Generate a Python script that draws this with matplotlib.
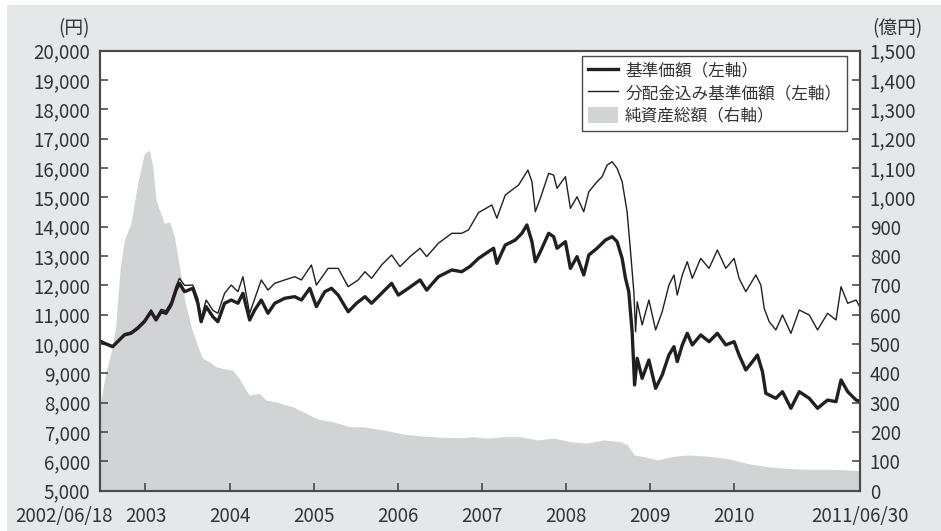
import matplotlib
matplotlib.use("Agg")
import matplotlib.pyplot as plt
from matplotlib.patches import Rectangle, Patch
from matplotlib.lines import Line2D
from matplotlib.transforms import ScaledTranslation
import pandas as pd

plt.rcParams['font.family'] = ['Noto Sans CJK JP', 'DejaVu Sans']

# ---------------- data (decimal years) ----------------
thick_years = [2002.46, 2002.512, 2002.61, 2002.67, 2002.75, 2002.828, 2002.908, 2002.988, 2003.067, 2003.126,
               2003.186, 2003.245, 2003.305, 2003.365, 2003.405, 2003.465, 2003.564, 2003.623, 2003.662, 2003.722,
               2003.802, 2003.861, 2003.941, 2004.02, 2004.10, 2004.159, 2004.239, 2004.299, 2004.377, 2004.457,
               2004.537, 2004.656, 2004.775, 2004.854, 2004.954, 2005.032, 2005.132, 2005.211, 2005.291, 2005.41,
               2005.509, 2005.609, 2005.688, 2005.807, 2005.926, 2006.006, 2006.125, 2006.264, 2006.343, 2006.482,
               2006.641, 2006.76, 2006.86, 2006.959, 2007.078, 2007.138, 2007.177, 2007.277, 2007.396, 2007.475,
               2007.534, 2007.594, 2007.634, 2007.694, 2007.793, 2007.852, 2007.892, 2007.992, 2008.051, 2008.13,
               2008.21, 2008.27, 2008.368, 2008.468, 2008.547, 2008.606, 2008.666, 2008.706, 2008.745, 2008.785,
               2008.814, 2008.845, 2008.904, 2008.984, 2009.064, 2009.142, 2009.222, 2009.282, 2009.321, 2009.381,
               2009.44, 2009.50, 2009.60, 2009.699, 2009.798, 2009.898, 2009.997, 2010.056, 2010.136, 2010.215,
               2010.274, 2010.334, 2010.374, 2010.493, 2010.572, 2010.672, 2010.771, 2010.89, 2010.989, 2011.108,
               2011.208, 2011.268, 2011.347, 2011.447, 2011.50]
thick_vals = [10100, 10025, 9910, 10080, 10310, 10365, 10535, 10760, 11100, 10820,
              11100, 11048, 11330, 11840, 12070, 11785, 11900, 11390, 10760, 11275,
              10930, 10760, 11390, 11500, 11390, 11730, 10820, 11160, 11500, 11048,
              11390, 11560, 11615, 11500, 11900, 11275, 11785, 11900, 11670, 11100,
              11390, 11615, 11390, 11730, 12070, 11670, 11900, 12185, 11840, 12295,
              12525, 12465, 12650, 12920, 13150, 13265, 12750, 13375, 13545, 13775,
              14060, 13490, 12805, 13150, 13775, 13660, 13265, 13490, 12580, 12980,
              12355, 13035, 13265, 13545, 13660, 13490, 12920, 12240, 11785, 10420,
              8605, 9515, 8830, 9455, 8490, 8945, 9625, 9910, 9400, 9970,
              10365, 9970, 10310, 10080, 10365, 9970, 10080, 9625, 9115, 9400,
              9625, 9055, 8320, 8150, 8375, 7810, 8375, 8150, 7810, 8090,
              8035, 8775, 8375, 8090, 8035]

thin_years = [2002.46, 2002.512, 2002.61, 2002.67, 2002.75, 2002.828, 2002.908, 2002.988, 2003.067, 2003.126,
              2003.186, 2003.245, 2003.305, 2003.365, 2003.405, 2003.465, 2003.564, 2003.623, 2003.662, 2003.722,
              2003.802, 2003.861, 2003.941, 2004.02, 2004.10, 2004.159, 2004.239, 2004.377, 2004.457, 2004.537,
              2004.656, 2004.775, 2004.854, 2004.973, 2005.032, 2005.172, 2005.291, 2005.41, 2005.529, 2005.609,
              2005.688, 2005.807, 2005.926, 2006.026, 2006.145, 2006.264, 2006.343, 2006.482, 2006.641, 2006.76,
              2006.84, 2006.959, 2007.117, 2007.177, 2007.277, 2007.435, 2007.546, 2007.594, 2007.634, 2007.694,
              2007.793, 2007.852, 2007.892, 2007.992, 2008.051, 2008.13, 2008.21, 2008.27, 2008.368, 2008.428,
              2008.487, 2008.547, 2008.606, 2008.666, 2008.725, 2008.766, 2008.805, 2008.826, 2008.845, 2008.904,
              2008.984, 2009.064, 2009.142, 2009.222, 2009.282, 2009.321, 2009.381, 2009.44, 2009.50, 2009.60,
              2009.699, 2009.798, 2009.898, 2009.997, 2010.056, 2010.136, 2010.255, 2010.315, 2010.354, 2010.414,
              2010.493, 2010.572, 2010.672, 2010.771, 2010.89, 2010.989, 2011.108, 2011.208, 2011.268, 2011.347,
              2011.447, 2011.50]
thin_vals = [10130, 10050, 9940, 10110, 10350, 10410, 10590, 10820, 11170, 10890,
             11180, 11140, 11430, 11980, 12240, 12000, 12010, 11550, 10875, 11500,
             11150, 11048, 11730, 12010, 11785, 12295, 11048, 12185, 11840, 12070,
             12185, 12295, 12185, 12695, 12010, 12580, 12580, 11955, 12185, 12465,
             12240, 12695, 13035, 12640, 12980, 13265, 12980, 13435, 13775, 13775,
             13890, 14480, 14740, 14290, 15080, 15420, 15930, 15535, 14510, 14970,
             15820, 15760, 15310, 15705, 14625, 15020, 14510, 15190, 15535, 15705,
             16100, 16215, 15990, 15535, 14510, 13150, 11785, 10420, 11440, 10650,
             11500, 10480, 11100, 12010, 12355, 11670, 12355, 12805, 12240, 12920,
             12580, 13205, 12580, 12920, 12240, 11785, 12355, 12010, 11218, 10760,
             10480, 10990, 10365, 11160, 10990, 10480, 11048, 10820, 11955, 11390,
             11500, 11218]

nav_years = [2002.46, 2002.527, 2002.60, 2002.646, 2002.70, 2002.75, 2002.828, 2002.908, 2002.988, 2003.048,
             2003.087, 2003.126, 2003.167, 2003.226, 2003.286, 2003.345, 2003.405, 2003.465, 2003.543, 2003.623,
             2003.679, 2003.758, 2003.837, 2003.917, 2004.036, 2004.115, 2004.195, 2004.234, 2004.353, 2004.433,
             2004.552, 2004.671, 2004.755, 2004.874, 2004.993, 2005.073, 2005.231, 2005.43, 2005.589, 2005.827,
             2006.065, 2006.303, 2006.541, 2006.78, 2006.899, 2007.062, 2007.26, 2007.459, 2007.658, 2007.856,
             2008.055, 2008.234, 2008.451, 2008.651, 2008.73, 2008.809, 2008.928, 2009.088, 2009.246, 2009.437,
             2009.675, 2009.913, 2010.152, 2010.39, 2010.628, 2010.866, 2011.104, 2011.342, 2011.50]
nav_vals = [290, 400, 480, 559, 760, 855, 911, 1048, 1150, 1161,
            1105, 991, 957, 911, 917, 866, 764, 650, 559, 491,
            451, 440, 423, 417, 411, 383, 343, 326, 332, 309,
            303, 292, 286, 269, 252, 243, 235, 218, 218, 207,
            193, 186, 182, 181, 184, 179, 184, 184, 173, 179,
            167, 162, 173, 167, 156, 122, 116, 105, 116, 122,
            118, 110, 93, 82, 76, 73, 73, 71, 68]

x_tick_dates = ['2002-06-18', '2003-01-01', '2004-01-01', '2005-01-01', '2006-01-01', '2007-01-01',
                '2008-01-01', '2009-01-01', '2010-01-01', '2011-06-30']
x_tick_labels = ['2002/06/18', '2003', '2004', '2005', '2006', '2007', '2008', '2009', '2010', '2011/06/30']
left_ticks = list(range(5000, 20001, 1000))
right_ticks = list(range(0, 1501, 100))

labels = ['基準価額（左軸）', '分配金込み基準価額（左軸）', '純資産総額（右軸）']


def dec_year(s):
    t = pd.Timestamp(s)
    ndays = 366 if t.is_leap_year else 365
    return t.year + (t.dayofyear - 1) / ndays


# ---------------- figure ----------------
DPI = 100
fig = plt.figure(figsize=(9.41, 5.31), dpi=DPI, facecolor='white')
fig.patches.append(Rectangle((7 / 941, 0), 1 - 7 / 941, 1 - 5 / 531, transform=fig.transFigure,
                             facecolor='#e6e7e8', edgecolor='none', zorder=-10))

L, R, T, B = 100 / 941, 860 / 941, 1 - 50.7 / 531, 1 - 490.7 / 531
ax = fig.add_axes([L, B, R - L, T - B])
ax2 = ax.twinx()
ax.set_zorder(3)
ax2.set_zorder(2)
ax.patch.set_visible(False)
ax2.patch.set_visible(True)
ax2.patch.set_facecolor('white')

line_col = '#231f20'
area_col = '#d1d3d4'
spine_col = '#4a4a4c'
text_col = '#333333'

ax2.fill_between(nav_years, nav_vals, 0, color=area_col, linewidth=0)
ax.plot(thin_years, thin_vals, color=line_col, lw=1.0, solid_joinstyle='round')
ax.plot(thick_years, thick_vals, color=line_col, lw=2.4, solid_joinstyle='round')

xticks = [dec_year(d) for d in x_tick_dates]
ax.set_xlim(xticks[0], xticks[-1])
ax.set_ylim(5000, 20000)
ax2.set_ylim(0, 1500)

ax.set_yticks(left_ticks)
ax.set_yticklabels([f'{v:,}' for v in left_ticks])
ax2.set_yticks(right_ticks)
ax2.set_yticklabels([f'{v:,}' for v in right_ticks])
ax.set_xticks(xticks)
ax.set_xticklabels(x_tick_labels)

fs = 13.5
ax.tick_params(axis='y', direction='in', length=6, width=1.2, color=spine_col, labelsize=fs,
               labelcolor=text_col, pad=7, right=False)
ax2.tick_params(axis='y', direction='in', length=6, width=1.2, color=spine_col, labelsize=fs,
                labelcolor=text_col, pad=7, left=False)
ax.tick_params(axis='x', direction='in', length=6, width=1.2, color=spine_col, labelsize=fs,
               labelcolor=text_col, pad=11, top=False)
ax2.tick_params(axis='x', top=False, bottom=False)

for a in (ax, ax2):
    for s in a.spines.values():
        s.set_color(spine_col)
        s.set_linewidth(1.5)

# shift the first date label left
first = ax.get_xticklabels()[0]
first.set_transform(first.get_transform() + ScaledTranslation(-36 / DPI, 0, fig.dpi_scale_trans))

fig.text(90 / 941, 1 - 29 / 531, '(円)', ha='right', va='center', fontsize=fs, color=text_col)
fig.text(872 / 941, 1 - 29 / 531, '(億円)', ha='left', va='center', fontsize=fs, color=text_col)

handles = [Line2D([], [], color=line_col, lw=2.4),
           Line2D([], [], color=line_col, lw=1.0),
           Patch(facecolor=area_col, edgecolor='none')]
leg = ax.legend(handles, labels, loc='upper right', bbox_to_anchor=(0.983, 0.988), borderaxespad=0,
                fontsize=12, frameon=True, fancybox=False, framealpha=1, edgecolor=spine_col,
                handlelength=1.8, handleheight=1.1, handletextpad=0.45, labelspacing=0.3, borderpad=0.35)
leg.get_frame().set_linewidth(1.0)
for t in leg.get_texts():
    t.set_color(text_col)

fig.savefig('out.png', dpi=DPI, facecolor=fig.get_facecolor())
